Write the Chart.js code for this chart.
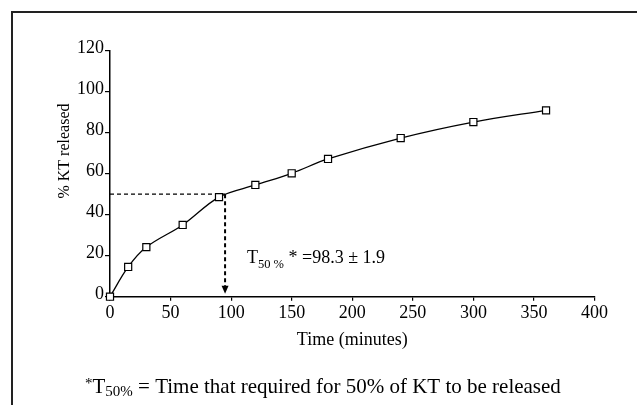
<!DOCTYPE html>
<html>
<head>
<meta charset="utf-8">
<script src="https://cdn.jsdelivr.net/npm/chart.js@4/dist/chart.umd.min.js"></script>
<style>
  html, body { margin: 0; padding: 0; background: #fff; }
  #wrap { width: 637px; height: 405px; }
</style>
</head>
<body>
<div id="wrap"><canvas id="chart" width="637" height="405"></canvas></div>
<script>
// release profile
const times = [0, 15, 30, 60, 90, 120, 150, 180, 240, 300, 360];
const released = [0, 14.5, 24.2, 35, 48.6, 54.5, 60.2, 67.2, 77.4, 85.2, 90.9];
const xTicks = [0, 50, 100, 150, 200, 250, 300, 350, 400];
const yTicks = [0, 20, 40, 60, 80, 100, 120];
// where the dashed guide lines meet (time, % released)
const t50Time = 95;
const t50Level = 50;

const serif = "'Liberation Serif', 'Times New Roman', serif";

// draws a row of text pieces with different sizes / baselines
function drawRuns(ctx, x, y, runs) {
    runs.forEach(r => {
        ctx.font = r[1] + 'px ' + serif;
        ctx.fillText(r[0], x, y + (r[2] || 0));
        x += ctx.measureText(r[0]).width;
    });
}

const guides = {
    id: 'guides',
    beforeDatasetsDraw(chart) {
        const ctx = chart.ctx;
        const xs = chart.scales.x, ys = chart.scales.y;
        const px = xs.getPixelForValue(t50Time);
        const py = ys.getPixelForValue(t50Level);
        const y0 = ys.getPixelForValue(0);
        ctx.save();
        ctx.strokeStyle = '#000';
        ctx.setLineDash([4, 3]);
        ctx.lineWidth = 1.2;
        ctx.beginPath();
        ctx.moveTo(xs.getPixelForValue(0), py);
        ctx.lineTo(px, py);
        ctx.stroke();
        ctx.lineWidth = 2;
        ctx.beginPath();
        ctx.moveTo(px, py);
        ctx.lineTo(px, y0 - 9);
        ctx.stroke();
        ctx.setLineDash([]);
        ctx.fillStyle = '#000';
        ctx.beginPath();
        ctx.moveTo(px - 3.5, y0 - 11);
        ctx.lineTo(px + 3.5, y0 - 11);
        ctx.lineTo(px, y0 - 3);
        ctx.closePath();
        ctx.fill();
        ctx.restore();
    },
    afterDraw(chart) {
        const ctx = chart.ctx;
        ctx.save();
        ctx.fillStyle = '#000';
        ctx.textBaseline = 'alphabetic';
        ctx.textAlign = 'left';
        drawRuns(ctx, 247, 263, [['T', 18], ['50 %', 12.5, 5], [' * =98.3 \u00b1 1.9', 18]]);
        drawRuns(ctx, 85, 393, [['*', 15, -5], ['T', 21], ['50%', 15, 3],
            [' = Time that required for 50% of KT to be released', 21]]);
        // y axis title
        ctx.save();
        ctx.translate(65, 151);
        ctx.rotate(-Math.PI / 2);
        ctx.textAlign = 'center';
        ctx.textBaseline = 'middle';
        ctx.font = '16px ' + serif;
        ctx.fillText('% KT released', 0, 0);
        ctx.restore();
        // frame
        ctx.strokeStyle = '#222';
        ctx.lineWidth = 2;
        ctx.strokeRect(12, 12, 700, 500);
        ctx.restore();
    }
};

const ctx = document.getElementById('chart').getContext('2d');
new Chart(ctx, {
    type: 'line',
    data: {
        datasets: [{
            data: times.map((t, i) => ({ x: t, y: released[i] })),
            borderColor: '#000',
            borderWidth: 1.3,
            tension: 0.35,
            pointStyle: 'rect',
            pointRadius: 5,
            pointBorderWidth: 1.2,
            pointBorderColor: '#000',
            pointBackgroundColor: '#fff',
            clip: false
        }]
    },
    options: {
        responsive: false,
        animation: false,
        devicePixelRatio: 1,
        layout: { autoPadding: false, padding: { left: 0, top: 50.7, right: 42.5, bottom: 0 } },
        plugins: { legend: { display: false }, tooltip: { enabled: false } },
        scales: {
            x: {
                type: 'linear',
                min: 0,
                max: 400,
                afterBuildTicks: s => { s.ticks = xTicks.map(v => ({ value: v })); },
                afterFit: s => { s.height = 108.3; },
                grid: { drawOnChartArea: false, drawTicks: true, tickLength: 4, color: '#000', lineWidth: 1.2 },
                border: { display: true, color: '#000', width: 1.5 },
                ticks: { color: '#000', padding: 2, maxRotation: 0, font: { family: serif, size: 18 } },
                title: {
                    display: true, text: 'Time (minutes)', color: '#000',
                    font: { family: serif, size: 18 }, padding: { top: 0, bottom: 54 }
                }
            },
            y: {
                type: 'linear',
                min: 0,
                max: 120,
                afterBuildTicks: s => { s.ticks = yTicks.map(v => ({ value: v })); },
                afterFit: s => { s.width = 110; },
                grid: { drawOnChartArea: false, drawTicks: true, tickLength: 5, color: '#000', lineWidth: 1.2 },
                border: { display: true, color: '#000', width: 1.5 },
                ticks: { color: '#000', padding: 1, labelOffset: -2, font: { family: serif, size: 18 } }
            }
        }
    },
    plugins: [guides]
});
</script>
</body>
</html>
